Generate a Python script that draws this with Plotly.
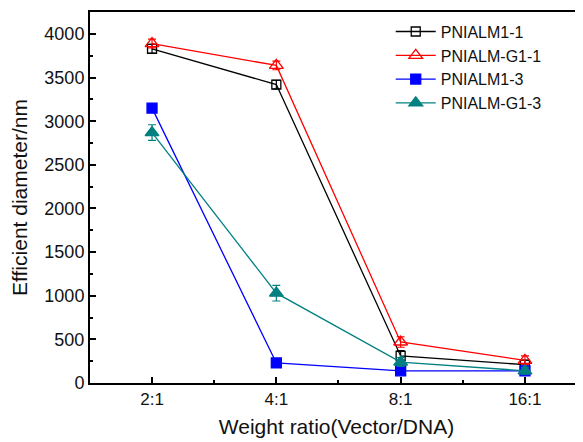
import plotly.graph_objects as go

categories = ["2:1", "4:1", "8:1", "16:1"]
x_pos = [0, 1, 2, 3]

pnialm1_1 = [3830, 3420, 310, 210]
pnialm_g1_1 = [3890, 3640, 470, 260]
pnialm1_3 = [3150, 230, 140, 140]
pnialm_g1_3 = [2870, 1030, 240, 140]

err1_1 = [50, 50, 60, 50]
errg1_1 = [50, 50, 60, 50]
err1_3 = [50, 50, 40, 40]
errg1_3 = [90, 90, 50, 40]

series = [
    ("PNIALM1-1", pnialm1_1, err1_1, "#000000", "square-open", 9),
    ("PNIALM-G1-1", pnialm_g1_1, errg1_1, "#FF0000", "triangle-up-open", 12),
    ("PNIALM1-3", pnialm1_3, err1_3, "#0000FF", "square", 10),
    ("PNIALM-G1-3", pnialm_g1_3, errg1_3, "#008080", "triangle-up", 12),
]

fig = go.Figure()
for name, vals, err, color, sym, size in series:
    fig.add_trace(go.Scatter(
        x=x_pos, y=vals, name=name, mode="lines+markers",
        line=dict(color=color, width=1.3),
        marker=dict(symbol=sym, size=size, color=color, line=dict(color=color, width=1.3)),
        error_y=dict(type="data", array=err, visible=True, color=color, thickness=1.2, width=4),
    ))

# page body has an 8px default margin, so the figure is offset by 8px
fig.update_layout(
    width=575, height=434,
    margin=dict(l=82, r=0, t=4, b=59),
    paper_bgcolor="white", plot_bgcolor="white",
    font=dict(family="Liberation Sans, Arial, sans-serif", color="#111111"),
    showlegend=True,
    legend=dict(x=0.61, y=0.993, xanchor="left", yanchor="top",
                bgcolor="rgba(0,0,0,0)", font=dict(size=16), tracegroupgap=0,
                itemwidth=40),
    xaxis=dict(
        range=[-0.499, 3.467], tickvals=x_pos, ticktext=categories,
        showline=True, linecolor="black", linewidth=2, mirror=True,
        ticks="inside", ticklen=6, tickwidth=1.5, tickcolor="black",
        minor=dict(tickvals=[0.5, 1.5, 2.5, 3.5], ticks="inside", ticklen=3, tickwidth=1.5, tickcolor="black"),
        showgrid=False, zeroline=False, automargin=False,
        tickfont=dict(size=17), ticklabelstandoff=0,
        title=dict(text="Weight ratio(Vector/DNA)", font=dict(size=21), standoff=11),
    ),
    yaxis=dict(
        range=[0, 4252], tickvals=[0, 500, 1000, 1500, 2000, 2500, 3000, 3500, 4000],
        showline=True, linecolor="black", linewidth=2, mirror=False,
        ticks="inside", ticklen=6, tickwidth=1.5, tickcolor="black",
        minor=dict(dtick=250, ticks="inside", ticklen=3, tickwidth=1.5, tickcolor="black"),
        showgrid=False, zeroline=False, automargin=False,
        tickfont=dict(size=18),
        title=dict(text="Efficient diameter/nm", font=dict(size=21), standoff=17),
    ),
)

fig.write_html("out.html")
